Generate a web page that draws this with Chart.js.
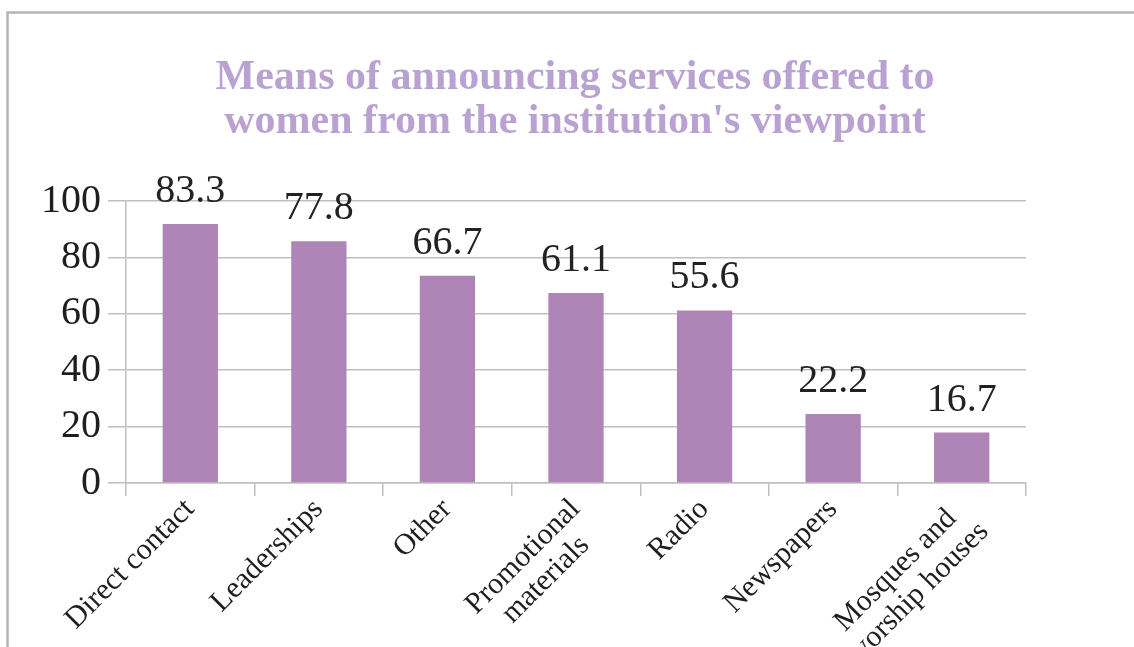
<!DOCTYPE html>
<html>
<head>
<meta charset="utf-8">
<script src="https://cdn.jsdelivr.net/npm/chart.js@4"></script>
<style>
  html, body { margin: 0; padding: 0; background: #fff; }
  #wrap { width: 1134px; height: 647px; }
</style>
</head>
<body>
<div id="wrap"><canvas id="meansChart" width="1134" height="647"></canvas></div>
<script>
// Chart data
const categories = [
    'Direct contact',
    'Leaderships',
    'Other',
    ['Promotional', 'materials'],
    'Radio',
    'Newspapers',
    ['Mosques and', 'worship houses']
];
// bar heights as drawn in the picture
const barHeights = [91.8, 85.7, 73.5, 67.4, 61.2, 24.5, 17.9];
// numbers printed above the bars
const labelValues = [83.3, 77.8, 66.7, 61.1, 55.6, 22.2, 16.7];
const yTicks = [0, 20, 40, 60, 80, 100];
const titleLines = [
    'Means of announcing services offered to',
    "women from the institution's viewpoint"
];

(function() {
    const canvas = document.getElementById('meansChart');
    const ctx = canvas.getContext('2d');

    const serif = '"Liberation Serif", "Times New Roman", serif';
    const gridColor = '#bfbfbf';
    const textColor = '#1e1e1e';

    // frame, title, rotated category labels and value labels
    const decorPlugin = {
        id: 'decor',
        beforeDraw(chart) {
            const c = chart.ctx;
            c.save();
            c.fillStyle = '#fff';
            c.fillRect(0, 0, chart.width, chart.height);
            c.strokeStyle = '#b5b5b5';
            c.lineWidth = 2.5;
            c.beginPath();
            c.moveTo(7.5, chart.height);
            c.lineTo(7.5, 12.5);
            c.lineTo(chart.width, 12.5);
            c.stroke();
            c.restore();
        },
        afterDraw(chart) {
            const c = chart.ctx;
            c.save();

            // title
            c.fillStyle = '#b9a2d2';
            c.font = 'bold 42px ' + serif;
            c.textAlign = 'center';
            c.textBaseline = 'alphabetic';
            c.fillText(titleLines[0], 575, 89);
            c.fillText(titleLines[1], 575, 133);

            // value labels above bars
            c.fillStyle = '#222';
            c.font = '40px ' + serif;
            const meta = chart.getDatasetMeta(0);
            meta.data.forEach((bar, i) => {
                c.fillText(labelValues[i].toFixed(1), bar.x, bar.y - 22);
            });

            // category labels, 45 degrees, lines centred on each other
            const xScale = chart.scales.x;
            const lh = 32;
            c.font = '30px ' + serif;
            c.fillStyle = textColor;
            c.textAlign = 'center';
            c.textBaseline = 'middle';
            categories.forEach((label, i) => {
                const lines = Array.isArray(label) ? label : [label];
                const w = Math.max(...lines.map(l => c.measureText(l).width));
                c.save();
                c.translate(xScale.getPixelForTick(i) - 11, xScale.top + 11);
                c.rotate(-Math.PI / 4);
                lines.forEach((line, j) => {
                    c.fillText(line, -w / 2, 15 + j * lh);
                });
                c.restore();
            });
            c.restore();
        }
    };

    new Chart(ctx, {
        type: 'bar',
        data: {
            labels: categories,
            datasets: [{
                data: barHeights,
                backgroundColor: '#af84b6',
                borderWidth: 0,
                categoryPercentage: 1.0,
                barPercentage: 0.43
            }]
        },
        options: {
            responsive: false,
            animation: false,
            devicePixelRatio: 1,
            layout: {
                padding: { left: 0, right: 108, top: 201, bottom: 0 }
            },
            plugins: {
                legend: { display: false },
                title: { display: false },
                tooltip: { enabled: false }
            },
            scales: {
                y: {
                    min: 0,
                    max: 100,
                    afterFit: function(scale) { scale.width = 126; },
                    afterBuildTicks: function(scale) {
                        scale.ticks = yTicks.map(v => ({ value: v }));
                    },
                    grid: {
                        color: gridColor,
                        lineWidth: 1.5,
                        tickLength: 18,
                        tickColor: gridColor
                    },
                    border: { display: true, color: gridColor, width: 1.5 },
                    ticks: {
                        padding: 7,
                        color: textColor,
                        font: { family: serif, size: 40 }
                    }
                },
                x: {
                    afterFit: function(scale) { scale.height = 164; },
                    grid: {
                        offset: true,
                        drawOnChartArea: false,
                        tickLength: 13,
                        color: gridColor,
                        lineWidth: 1.5
                    },
                    border: { display: true, color: gridColor, width: 1.5 },
                    ticks: {
                        autoSkip: false,
                        minRotation: 45,
                        maxRotation: 45,
                        color: 'rgba(0,0,0,0)',
                        font: { family: serif, size: 30 }
                    }
                }
            }
        },
        plugins: [decorPlugin]
    });
})();
</script>
</body>
</html>
